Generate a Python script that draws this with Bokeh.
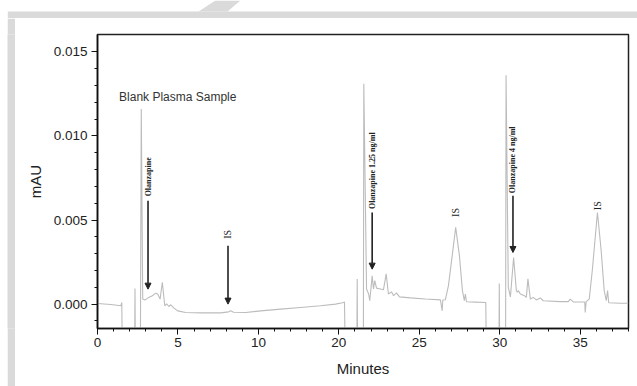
from bokeh.plotting import figure
from bokeh.layouts import column, row
from bokeh.models import (ColumnDataSource, FixedTicker, PrintfTickFormatter, Arrow,
                          NormalHead, Range1d, Spacer)
from bokeh.core.properties import value
from bokeh.embed import file_html
from bokeh.resources import INLINE
import math

# ---------------- data (x = position on the drawn time axis) ----------------
blank_t = [0.0, 0.83, 1.45, 1.51, 1.55, 2.30, 2.33, 2.36, 2.66, 2.72, 2.81, 2.95, 3.18,
           3.41, 3.62, 3.74, 3.89, 4.03, 4.18, 4.30, 4.43, 4.55, 4.74, 4.98, 5.48, 6.41,
           7.65, 8.15, 8.27, 8.46, 9.21, 10.14, 11.38, 12.62, 13.86, 14.79, 15.23, 15.35,
           15.41]
blank_mau = [0.00004, -0.00002, -0.0001, 0.0001, -0.004, -0.004, 0.00093, -0.004, -0.004,
             0.0116, 0.0003, 0.00024, 0.0004, 0.0005, 0.00065, 0.0006, 0.0003, 0.0013,
             -0.0001, 0.00002, -0.00014, -0.00004, -0.00022, -0.0004, -0.0005, -0.00052,
             -0.00052, -0.00046, -0.0004, -0.00048, -0.0005, -0.0004, -0.0003, -0.0002,
             -0.0001, 0.0, 0.00008, 0.00012, -0.004]

low_t = [16.11, 16.14, 16.17, 16.52, 16.55, 16.72, 16.85, 16.92, 17.07, 17.15, 17.23,
         17.34, 17.59, 17.77, 17.94, 18.08, 18.27, 18.40, 18.58, 18.77, 19.45, 20.38,
         21.31, 21.42, 21.46, 21.62, 21.81, 22.06, 22.26, 22.49, 22.68, 22.80, 22.86,
         22.93, 23.48, 24.13, 24.18]
low_mau = [-0.004, 0.0015, -0.004, -0.004, 0.0131, 0.0009, 0.0006, 0.0002, 0.00168,
           0.0009, 0.0014, 0.00095, 0.0009, 0.00085, 0.0018, 0.0006, 0.00073, 0.0005,
           0.00067, 0.00043, 0.00037, 0.0003, 0.00025, -0.0004, 0.00024, 0.00026, 0.0011,
           0.003, 0.00456, 0.0029, 0.0008, 0.0002, 0.0006, 0.00014, 0.00012, 0.0001,
           -0.004]

high_t = [24.94, 24.97, 25.00, 25.36, 25.39, 25.53, 25.66, 25.86, 26.03, 26.09, 26.15,
          26.28, 26.53, 26.65, 26.75, 26.90, 27.08, 27.27, 27.52, 27.70, 28.76, 29.26,
          29.38, 29.57, 30.28, 30.31, 30.37, 30.56, 30.75, 31.07, 31.30, 31.49, 31.62,
          31.70, 31.77, 32.48, 32.99]
high_mau = [-0.004, 0.00123, -0.004, -0.004, 0.0136, 0.001, 0.00043, 0.00277, 0.0008,
            0.0007, 0.0008, 0.0006, 0.0005, 0.0004, 0.0015, 0.0003, 0.0004, 0.00025,
            0.00037, 0.0002, 0.00015, 0.00015, 0.0003, 0.00013, 0.00013, -0.0005,
            0.00015, 0.0003, 0.002, 0.00545, 0.0032, 0.0008, 0.0002, 0.0008, 0.00008,
            0.00005, 0.00005]

x_tick_positions = [0, 5, 10, 15, 20, 25, 30]
x_tick_labels = ["0", "5", "10", "20", "25", "30", "35"]
y_ticks = [0.0, 0.005, 0.010, 0.015]

peak_label_x = [3.14, 8.11, 17.07, 22.26, 25.82, 31.07]
peak_label_y = [0.00757, 0.00415, 0.00793, 0.00545, 0.00858, 0.00585]
peak_label_text = ["Olanzapine", "IS", "Olanzapine 1.25 ng/ml", "IS",
                   "Olanzapine 4 ng/ml", "IS"]

arrow_x = [3.14, 8.11, 17.07, 25.82]
arrow_y_start = [0.00615, 0.00347, 0.00545, 0.00645]
arrow_y_end = [0.00089, 0.0000, 0.00208, 0.00307]

title_text = "Blank Plasma Sample"

DECO = "#dadada"


def blank_fig(w, h, fill="white"):
    f = figure(width=w, height=h, output_backend="svg", toolbar_location=None,
               x_range=Range1d(0, w), y_range=Range1d(0, h),
               x_axis_location=None, y_axis_location=None,
               min_border=0, min_border_left=0, min_border_right=0,
               min_border_top=0, min_border_bottom=0,
               background_fill_color=fill, border_fill_color=fill)
    f.grid.visible = False
    f.outline_line_color = None
    return f


# decorative page frame: top band with diagonal stripe, left band
top = blank_fig(637, 18)
top.quad(left=[7.3], right=[637], bottom=[-0.3], top=[7], fill_color=DECO, line_color=None)
top.patch([215, 240, 227, 198], [18, 18, 7, 7], fill_color=DECO, line_color=None)

side = blank_fig(8, 368, fill=DECO)

# ---------------- main chart ----------------
p = figure(width=622, height=368, output_backend="svg", toolbar_location=None,
           x_range=Range1d(0, 33.0), y_range=Range1d(-0.00145, 0.01603),
           min_border_left=82, min_border_right=9, min_border_top=16, min_border_bottom=58,
           background_fill_color="white", border_fill_color="white")
p.grid.visible = False
p.outline_line_color = "#222222"
p.outline_line_width = 1.5

trace_color = "#bcbcbc"
for t, a in ((blank_t, blank_mau), (low_t, low_mau), (high_t, high_mau)):
    p.line(t, a, line_color=trace_color, line_width=1.1)

arrow_src = ColumnDataSource(dict(x0=arrow_x, y0=arrow_y_start, x1=arrow_x, y1=arrow_y_end))
p.add_layout(Arrow(source=arrow_src, x_start="x0", y_start="y0", x_end="x1", y_end="y1",
                   line_color="#222222", line_width=1.6,
                   end=NormalHead(size=6, fill_color="#222222", line_color="#222222")))

lab_src = ColumnDataSource(dict(x=peak_label_x, y=peak_label_y, text=peak_label_text,
                                size=["8px" if t != "IS" else "10px" for t in peak_label_text],
                                style=["bold" if t != "IS" else "normal" for t in peak_label_text]))
p.text(x="x", y="y", text="text", source=lab_src, angle=math.pi / 2,
       text_font=value("Liberation Serif"), text_font_size="size", text_font_style="style",
       text_color="#222222", text_align="center", text_baseline="middle")

p.text(x=[1.34], y=[0.01234], text=[title_text], text_font=value("Liberation Sans"),
       text_font_size="12px", text_color="#333333", text_align="left",
       text_baseline="middle")

for ax in (p.xaxis[0], p.yaxis[0]):
    ax.axis_line_width = 1.6
    ax.axis_line_color = "#111111"
    ax.major_tick_line_color = "#111111"
    ax.minor_tick_line_color = "#111111"
    ax.major_tick_out = 6
    ax.major_tick_in = 0
    ax.minor_tick_out = 3
    ax.minor_tick_in = 0
    ax.major_label_text_font = "Liberation Sans"
    ax.major_label_text_font_size = "13.5px"
    ax.major_label_text_color = "#222222"
    ax.axis_label_text_font = "Liberation Sans"
    ax.axis_label_text_font_size = "15px"
    ax.axis_label_text_font_style = "normal"
    ax.axis_label_text_color = "#222222"

p.xaxis.ticker = FixedTicker(ticks=x_tick_positions,
                             minor_ticks=[i for i in range(0, 34) if i % 5 != 0])
p.xaxis.major_label_overrides = dict(zip(x_tick_positions, x_tick_labels))
p.xaxis.axis_label = "Minutes"
p.xaxis.major_label_standoff = 3
p.xaxis.axis_label_standoff = 10

p.yaxis.ticker = FixedTicker(ticks=y_ticks,
                             minor_ticks=[-0.001, 0.001, 0.002, 0.003, 0.004, 0.006, 0.007,
                                          0.008, 0.009, 0.011, 0.012, 0.013, 0.014])
p.yaxis.formatter = PrintfTickFormatter(format="%.3f")
p.yaxis.axis_label = "mAU"
p.yaxis.major_label_standoff = 4
p.yaxis.axis_label_standoff = 7

layout = column(top, row(Spacer(width=7, height=368), side, p, spacing=0), spacing=0)

open("out.html", "w").write(file_html(layout, INLINE))
